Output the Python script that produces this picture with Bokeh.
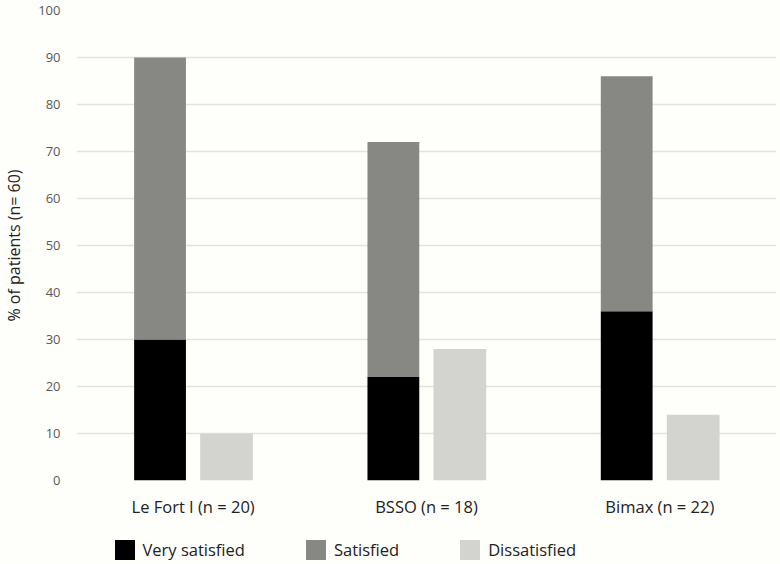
from bokeh.plotting import figure
from bokeh.layouts import column
from bokeh.models import ColumnDataSource, FactorRange, Legend, LegendItem, Range1d, SingleIntervalTicker
from bokeh.transform import dodge
from bokeh.embed import file_html
from bokeh.resources import INLINE

categories = ["Le Fort I (n = 20)", "BSSO (n = 18)", "Bimax (n = 22)"]
very_satisfied = [30, 22, 36]
satisfied = [60, 50, 50]
dissatisfied = [10, 28, 14]
series_labels = ["Very satisfied", "Satisfied", "Dissatisfied"]
series_colors = ["#000000", "#878883", "#d3d4d0"]

BG = "#fefefb"
FONT = "Open Sans"
TXT = "#222222"

src = ColumnDataSource(data=dict(cat=categories, vs=very_satisfied, s=satisfied, d=dissatisfied))

# ---- main chart ----
p = figure(x_range=FactorRange(*categories), y_range=Range1d(0, 100),
           width=780, height=522, output_backend="svg", toolbar_location=None,
           background_fill_color=BG, border_fill_color=BG, outline_line_color=None,
           min_border_left=75, min_border_right=4, min_border_top=10, min_border_bottom=42)
p.x_range.range_padding = 0

p.vbar_stack(["vs", "s"], x=dodge("cat", -0.142, range=p.x_range), width=0.222,
             source=src, color=series_colors[:2], line_color=None)
p.vbar(x=dodge("cat", 0.143, range=p.x_range), top="d", width=0.226, source=src,
       color=series_colors[2], line_color=None)

p.xgrid.grid_line_color = None
p.ygrid.grid_line_color = "#e2e2de"
p.ygrid.grid_line_width = 1.5
p.yaxis.ticker = SingleIntervalTicker(interval=10)
for ax in (p.xaxis[0], p.yaxis[0]):
    ax.axis_line_color = None
    ax.major_tick_line_color = None
    ax.minor_tick_line_color = None
    ax.major_tick_in = 0
    ax.major_tick_out = 0
p.yaxis.major_label_text_font = FONT
p.yaxis.major_label_text_font_size = "13px"
p.yaxis.major_label_text_color = "#595959"
p.yaxis.major_label_standoff = 12
p.yaxis.axis_label = "% of patients (n= 60)"
p.yaxis.axis_label_text_font = FONT
p.yaxis.axis_label_text_font_size = "16px"
p.yaxis.axis_label_text_font_style = "normal"
p.yaxis.axis_label_text_color = TXT
p.yaxis.axis_label_standoff = 10
p.xaxis.major_label_text_font = FONT
p.xaxis.major_label_text_font_size = "16.5px"
p.xaxis.major_label_text_color = TXT
p.xaxis.major_label_standoff = 14

# ---- legend strip (bars drawn out of its view; only legend swatches show) ----
q = figure(x_range=FactorRange(*categories), y_range=Range1d(1000, 1001),
           width=780, height=42, output_backend="svg", toolbar_location=None,
           background_fill_color=BG, border_fill_color=BG, outline_line_color=None,
           min_border_left=0, min_border_right=0, min_border_top=0, min_border_bottom=0)
q.axis.visible = False
q.grid.visible = False
lr_stack = q.vbar_stack(["vs", "s"], x="cat", width=0.2, source=src,
                        color=series_colors[:2], line_color=None)
lr_d = q.vbar(x="cat", top="d", width=0.2, source=src, color=series_colors[2], line_color=None)

legend = Legend(items=[LegendItem(label=series_labels[0], renderers=[lr_stack[0]]),
                       LegendItem(label=series_labels[1], renderers=[lr_stack[1]]),
                       LegendItem(label=series_labels[2], renderers=[lr_d])],
                orientation="horizontal", location=(35.5, 2),
                glyph_width=25, glyph_height=25, label_standoff=6, spacing=58,
                padding=0, margin=0, border_line_color=None, background_fill_alpha=0,
                label_text_font=FONT, label_text_font_size="16.5px", label_text_color=TXT)
q.add_layout(legend, "center")

layout = column(p, q, spacing=0)
open("out.html", "w").write(file_html(layout, INLINE))
